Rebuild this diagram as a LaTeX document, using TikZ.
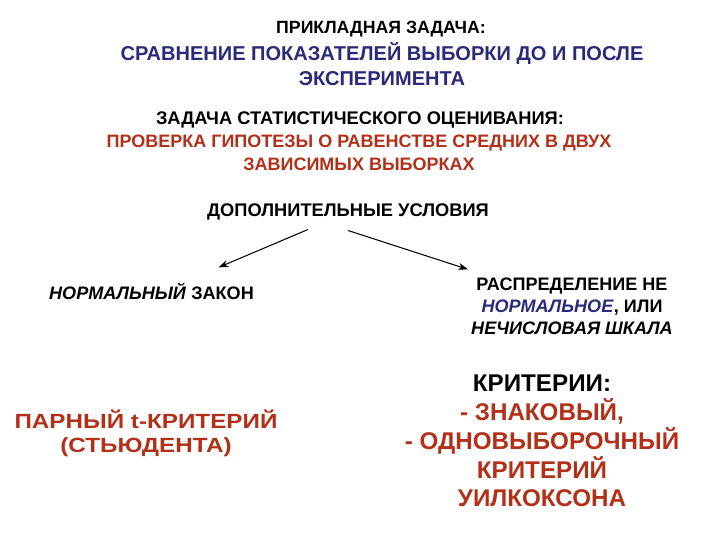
\documentclass[tikz,border=0pt]{standalone}
\usepackage{fontspec}
\setmainfont{Liberation Sans}
\newfontfamily\widefont[FakeStretch=1.18]{Liberation Sans}
\usepackage{tikz}
\usetikzlibrary{arrows.meta, positioning}
\definecolor{darkblue}{RGB}{42,42,122}
\definecolor{darkred}{RGB}{178,48,24}
\tikzstyle{head_style} = [align=center, inner sep=0pt, font=\fontsize{13}{15.6}\selectfont\bfseries]
\tikzstyle{blue_style} = [align=center, inner sep=0pt, text=darkblue, font=\fontsize{14.25}{17.8}\selectfont\bfseries]
\tikzstyle{red_style} = [align=center, inner sep=0pt, text=darkred, font=\fontsize{12.8}{16}\selectfont\bfseries]
\tikzstyle{cond_style} = [align=center, inner sep=0pt, font=\fontsize{12.85}{15.6}\selectfont\bfseries]
\tikzstyle{big_style} = [align=center, inner sep=0pt, text=darkred, font=\fontsize{17.2}{20.5}\selectfont\bfseries]
\tikzstyle{arrow_style} = [line width=0.75pt, -{Stealth[length=7pt, width=5pt]}]

\begin{document}
\begin{tikzpicture}[x=0.025cm, y=-0.025cm]
	  \useasboundingbox (0,0) rectangle (720,540);

	  % 第一行
	  \node[head_style, font=\fontsize{12.6}{15}\selectfont\bfseries] (task) at (381,29) {ПРИКЛАДНАЯ ЗАДАЧА:};
	  \node[blue_style] (task_txt) at (382,64.5) {СРАВНЕНИЕ ПОКАЗАТЕЛЕЙ ВЫБОРКИ ДО И ПОСЛЕ\\ЭКСПЕРИМЕНТА};

	  % 第二行
	  \node[head_style] (stat) at (360,120) {ЗАДАЧА СТАТИСТИЧЕСКОГО ОЦЕНИВАНИЯ:};
	  \node[red_style] (stat_txt) at (359,153) {ПРОВЕРКА ГИПОТЕЗЫ О РАВЕНСТВЕ СРЕДНИХ В ДВУХ\\ЗАВИСИМЫХ ВЫБОРКАХ};

	  % 第三行
	  \node[head_style] (cond) at (348,212) {ДОПОЛНИТЕЛЬНЫЕ УСЛОВИЯ};

	  % 第四行
	  \node[cond_style] (norm) at (151.5,291) {\textit{НОРМАЛЬНЫЙ} ЗАКОН};
	  \node[cond_style] (notnorm) at (572,306) {РАСПРЕДЕЛЕНИЕ НЕ\\\textcolor{darkblue}{\textit{НОРМАЛЬНОЕ}}, ИЛИ\\\textit{НЕЧИСЛОВАЯ ШКАЛА}};
	  \draw[arrow_style] ([xshift=-1cm, yshift=-0.225cm]cond.south) -- ([xshift=1.675cm, yshift=0.375cm]norm.north);
	  \draw[arrow_style] ([yshift=-0.25cm]cond.south) -- ([xshift=-2.6cm, yshift=0.2cm]notnorm.north);

	  % 第五行
	  \node[big_style, font=\fontsize{14.6}{17.2}\selectfont\widefont\bfseries] (ttest) at (146,433) {ПАРНЫЙ t-КРИТЕРИЙ\\(СТЬЮДЕНТА)};
	  \node[big_style] (crit) at (542,441) {\textcolor{black}{КРИТЕРИИ:}\\- ЗНАКОВЫЙ,\\- ОДНОВЫБОРОЧНЫЙ\\КРИТЕРИЙ\\УИЛКОКСОНА};

\end{tikzpicture}
\end{document}
